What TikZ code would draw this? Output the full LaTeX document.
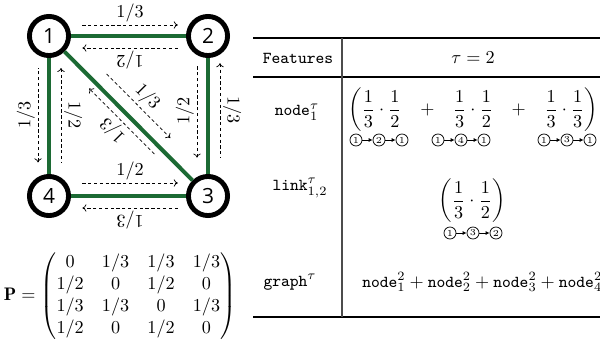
\documentclass[tikz,border=0pt]{standalone}
\usepackage{amsmath, amssymb}
\usepackage{fontspec}
\usepackage{tikz}
\usetikzlibrary{arrows.meta, calc}
\newfontfamily\vtxfont{Open Sans}
\definecolor{linkgreen}{RGB}{28,106,52}
\newcommand{\ft}[1]{\text{\fontsize{9.2pt}{11pt}\selectfont\ttfamily #1}}
% three-step walk drawn as small circles
\newcommand{\walk}[6]{%
    \node[mini] (#1a) at ({#2-23},#3) {#4};
    \node[mini] (#1b) at (#2,#3) {#5};
    \node[mini] (#1c) at ({#2+23},#3) {#6};
    \draw[hop] (#1a) -- (#1b);
    \draw[hop] (#1b) -- (#1c);
}

\begin{document}
\begin{tikzpicture}[x=0.55pt, y=-0.55pt,
    vtx/.style={circle, draw, line width=2.7pt, minimum size=21.5pt, inner sep=0pt, font=\vtxfont\fontsize{11.5}{12}\selectfont},
    edge/.style={line width=2.2pt, linkgreen},
    flow/.style={->, >={To[length=2.2pt, width=4pt]}, thin, dash pattern=on 1.8pt off 1.4pt},
    lbl/.style={midway, sloped, above, allow upside down, inner sep=1.5pt},
    mini/.style={circle, draw, thin, minimum size=6.6pt, inner sep=0pt, font=\fontsize{5}{5}\selectfont},
    hop/.style={-{Latex[length=2.2pt, width=2.2pt]}, thin}]
    \useasboundingbox (0,0) rectangle (600,341);

    % graph
    \node[vtx] (n1) at (49,36) {1};
    \node[vtx] (n2) at (208,36) {2};
    \node[vtx] (n3) at (208,196) {3};
    \node[vtx] (n4) at (49,196) {4};
    \draw[edge] (n1) -- (n2);
    \draw[edge] (n2) -- (n3);
    \draw[edge] (n3) -- (n4);
    \draw[edge] (n4) -- (n1);
    \draw[edge] (n1) -- (n3);

    % transition probabilities
    \draw[flow] ($(n1)!.21!(n2)+(0,-11)$) -- ($(n1)!.81!(n2)+(0,-11)$) node[lbl] {$1/3$};
    \draw[flow] ($(n2)!.19!(n1)+(0,12)$) -- ($(n2)!.79!(n1)+(0,12)$) node[lbl] {$1/2$};
    \draw[flow] ($(n4)!.21!(n3)+(0,-13)$) -- ($(n4)!.81!(n3)+(0,-13)$) node[lbl] {$1/2$};
    \draw[flow] ($(n3)!.19!(n4)+(0,12)$) -- ($(n3)!.79!(n4)+(0,12)$) node[lbl] {$1/3$};
    \draw[flow, <-] ($(n4)!.21!(n1)+(-11,0)$) -- ($(n4)!.8!(n1)+(-11,0)$) node[lbl] {$1/3$};
    \draw[flow, <-] ($(n1)!.2!(n4)+(12,0)$) -- ($(n1)!.79!(n4)+(12,0)$) node[lbl] {$1/2$};
    \draw[flow, <-] ($(n3)!.24!(n2)+(-11,0)$) -- ($(n3)!.82!(n2)+(-11,0)$) node[lbl] {$1/2$};
    \draw[flow, <-] ($(n2)!.17!(n3)+(12,0)$) -- ($(n2)!.76!(n3)+(12,0)$) node[lbl] {$1/3$};
    \draw[flow] ($(n1)!.3!(n3)+(10,-10)$) -- ($(n1)!.7!(n3)+(10,-10)$) node[lbl] {$1/3$};
    \draw[flow] ($(n3)!.3!(n1)+(-6,6)$) -- ($(n3)!.71!(n1)+(-6,6)$) node[lbl] {$1/3$};

    \node (pmat) at (120,296) {$\mathbf{P}=\begin{pmatrix}
        0 & 1/3 & 1/3 & 1/3\\
        1/2 & 0 & 1/2 & 0\\
        1/3 & 1/3 & 0 & 1/3\\
        1/2 & 0 & 1/2 & 0
    \end{pmatrix}$};

    % table
    \draw[line width=1.1pt] (253,38) -- (600,38);
    \draw[line width=0.6pt] (253,77) -- (600,77);
    \draw[line width=1.1pt] (253,317) -- (600,317);
    \draw[black!70, line width=0.7pt] (342,38) -- (342,317);
    \node (hfeat) at (298,58) {\ft{Features}};
    \node (htau) at (473,58) {$\tau=2$};
    \node (lnode) at (297,112) {$\ft{node}_1^\tau$};
    \node (llink) at (300,188) {$\ft{link}_{1,2}^\tau$};
    \node (lgraph) at (290,282) {$\ft{graph}^\tau$};
    \node (fnode) at (473,110) {$\displaystyle\left(\frac13\cdot\frac12\hskip8pt+\hskip8pt\frac13\cdot\frac12\hskip8pt+\hskip8pt\frac13\cdot\frac13\right)$};
    \node (flink) at (472,201) {$\displaystyle\left(\frac13\cdot\frac12\right)$};
    \node[anchor=west, inner sep=0pt] (fgraph) at (362,282) {$\ft{node}_1^2+\ft{node}_2^2+\ft{node}_3^2+\ft{node}_4^2$};
    \walk{wa}{379}{140}{1}{2}{1}
    \walk{wb}{461}{140}{1}{4}{1}
    \walk{wc}{567}{140}{1}{3}{1}
    \walk{wd}{473}{233}{1}{3}{2}
\end{tikzpicture}
\end{document}
